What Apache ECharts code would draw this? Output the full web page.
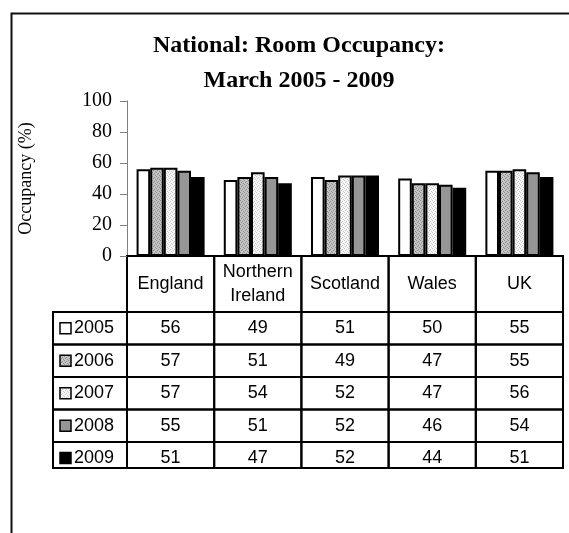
<!DOCTYPE html>
<html>
<head>
<meta charset="utf-8">
<script src="https://cdn.jsdelivr.net/npm/echarts@6/dist/echarts.min.js"></script>
<style>
  html, body { margin: 0; padding: 0; background: #fff; }
  #main { width: 569px; height: 533px; }
</style>
</head>
<body>
<div id="main"></div>
<script>
  // chart data
  const categories = ['England', 'Northern\nIreland', 'Scotland', 'Wales', 'UK']
  const years = ['2005', '2006', '2007', '2008', '2009']
  const occ2005 = [56, 49, 51, 50, 55]
  const occ2006 = [57, 51, 49, 47, 55]
  const occ2007 = [57, 54, 52, 47, 56]
  const occ2008 = [55, 51, 52, 46, 54]
  const occ2009 = [51, 47, 52, 44, 51]
  const yTicks = [0, 20, 40, 60, 80, 100]

  const seriesValues = [occ2005, occ2006, occ2007, occ2008, occ2009]

  // small tiled fills like the excel dotted patterns
  function makePattern (base, dot) {
    const c = document.createElement('canvas')
    c.width = 4
    c.height = 4
    const ctx = c.getContext('2d')
    ctx.fillStyle = base
    ctx.fillRect(0, 0, 4, 4)
    ctx.fillStyle = dot
    // scattered dots so it reads as a stipple, not stripes
    ctx.fillRect(0, 0, 1, 1)
    ctx.fillRect(2, 1, 1, 1)
    ctx.fillRect(1, 2, 1, 1)
    ctx.fillRect(3, 3, 1, 1)
    return { image: c, repeat: 'repeat' }
  }
  const fills = [
    '#ffffff',
    makePattern('#c4c4c4', '#8c8c8c'),
    makePattern('#f6f6f6', '#c8c8c8'),
    '#969696',
    '#000000'
  ]

  const chart = echarts.init(document.getElementById('main'))

  const option = {
    animation: false,
    backgroundColor: '#fff',
    title: {
      text: 'National: Room Occupancy:\nMarch 2005 - 2009',
      left: 294,
      top: 23,
      textAlign: 'center',
      textStyle: {
        fontFamily: 'Liberation Serif',
        fontWeight: 'bold',
        fontSize: 24,
        lineHeight: 35,
        color: '#000'
      }
    },
    grid: {
      left: 127,
      right: 6,
      top: 101,
      bottom: 277,
      containLabel: false
    },
    xAxis: {
      type: 'category',
      data: categories,
      axisLine: { show: true, lineStyle: { color: '#000', width: 2 } },
      axisTick: { show: false },
      axisLabel: { show: false },
      splitLine: { show: false }
    },
    yAxis: {
      type: 'value',
      min: yTicks[0],
      max: yTicks[yTicks.length - 1],
      interval: 20,
      name: 'Occupancy (%)',
      nameLocation: 'middle',
      nameRotate: 90,
      nameGap: 92,
      nameTextStyle: {
        fontFamily: 'Liberation Serif',
        fontSize: 18,
        color: '#000'
      },
      axisLine: { show: true, lineStyle: { color: '#808080', width: 1 } },
      axisTick: { show: true, inside: false, length: 7, lineStyle: { color: '#808080' } },
      axisLabel: {
        margin: 15,
        fontFamily: 'Liberation Serif',
        fontSize: 20,
        color: '#000'
      },
      splitLine: { show: false }
    },
    series: years.map((y, i) => ({
      name: y,
      type: 'bar',
      data: seriesValues[i],
      barGap: '0%',
      barCategoryGap: '22%',
      itemStyle: {
        color: fills[i],
        borderColor: '#000',
        borderWidth: 2
      }
    }))
  }

  chart.setOption(option)

  // data table under the plot, placed from the axis scales
  const c0 = chart.convertToPixel({ xAxisIndex: 0 }, 0)
  const c1 = chart.convertToPixel({ xAxisIndex: 0 }, 1)
  const band = c1 - c0
  const tableLeft = c0 - band / 2
  const yZero = chart.convertToPixel({ yAxisIndex: 0 }, 0)
  const headerH = 56
  const rowH = [32.5, 32.5, 32.5, 32.5, 26]
  const legendLeft = 53
  const tableFont = '18px "Liberation Sans", Arial, sans-serif'

  const graphics = []
  // outer chart frame
  graphics.push({
    type: 'rect',
    shape: { x: 11.5, y: 13.5, width: 700, height: 700 },
    style: { fill: 'none', stroke: '#111', lineWidth: 2 },
    silent: true
  })

  function cellText (text, x, y, align) {
    return {
      type: 'text',
      x: x,
      y: y,
      style: {
        text: text,
        font: tableFont,
        fill: '#000',
        align: align || 'center',
        verticalAlign: 'middle',
        textAlign: align || 'center',
        textVerticalAlign: 'middle',
        lineHeight: 24
      },
      silent: true
    }
  }

  function cellRect (x, y, w, h) {
    return {
      type: 'rect',
      shape: { x: x, y: y, width: w, height: h },
      style: { fill: 'none', stroke: '#000', lineWidth: 2 },
      silent: true
    }
  }

  // header row
  categories.forEach((cat, i) => {
    const left = tableLeft + band * i
    graphics.push(cellRect(left, yZero, band, headerH))
    graphics.push(cellText(cat, left + band / 2, yZero + headerH / 2))
  })

  // value rows with legend keys
  let rowTop = yZero + headerH
  years.forEach((y, r) => {
    const h = rowH[r]
    const mid = rowTop + h / 2 + (r === years.length - 1 ? 3 : 0)
    graphics.push(cellRect(legendLeft, rowTop, tableLeft - legendLeft, h))
    graphics.push({
      type: 'rect',
      shape: { x: 60, y: mid - 5.5, width: 11, height: 11 },
      style: { fill: fills[r], stroke: '#000', lineWidth: 1.5 },
      silent: true
    })
    graphics.push(cellText(y, 74, mid, 'left'))
    seriesValues[r].forEach((v, i) => {
      const left = tableLeft + band * i
      graphics.push(cellRect(left, rowTop, band, h))
      graphics.push(cellText(String(v), left + band / 2, mid))
    })
    rowTop += h
  })

  chart.setOption({ graphic: graphics })
</script>
</body>
</html>
